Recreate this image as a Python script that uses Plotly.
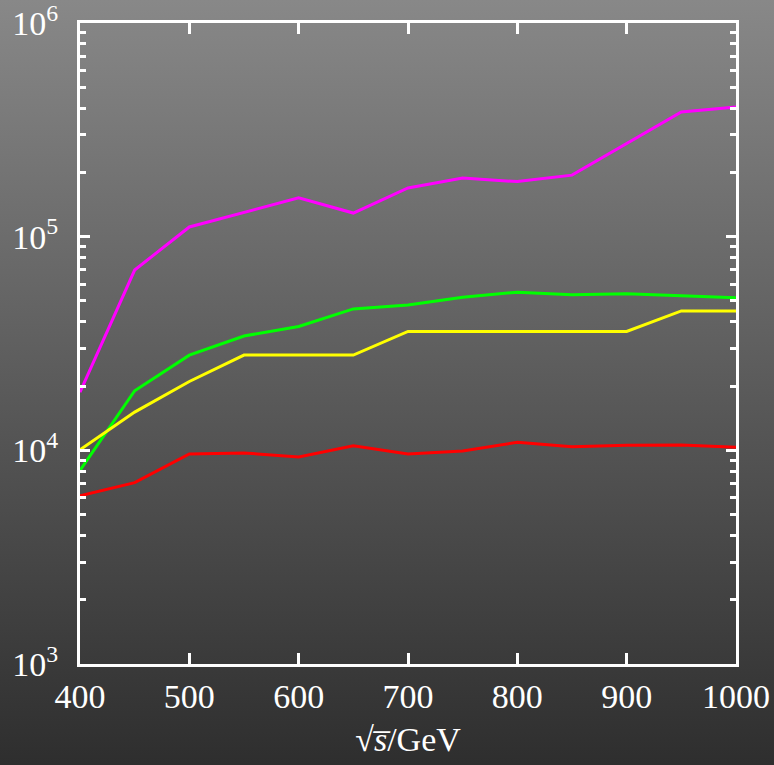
import base64
import plotly.graph_objects as go

# ---- data ----
sqrt_s = [400, 450, 500, 550, 600, 650, 700, 750, 800, 850, 900, 950, 1000]
magenta_vals = [18700, 69800, 111000, 130000, 152000, 129000, 169000, 188000, 181000, 194000, 272000, 383000, 404000]
green_vals = [8050, 19000, 27900, 34300, 38000, 45900, 47900, 52000, 55000, 53500, 54000, 53000, 51800]
yellow_vals = [10050, 15100, 21000, 27900, 27900, 27900, 36000, 36000, 36000, 36000, 36000, 44900, 44900]
red_vals = [6120, 7060, 9620, 9720, 9310, 10500, 9620, 9940, 10900, 10400, 10550, 10600, 10350]

x_ticks = [400, 500, 600, 700, 800, 900, 1000]
y_ticks = [1e3, 1e4, 1e5, 1e6]
y_ticktext = ["10<sup>3</sup>", "10<sup>4</sup>", "10<sup>5</sup>", "10<sup>6</sup>"]
y_minor = [m * 10 ** e for e in (3, 4, 5) for m in range(2, 10)]

W, H = 774, 765
ML, MR, MT, MB = 80, 38, 23, 101
PW, PH = W - ML - MR, H - MT - MB

svg = (
    f"<svg xmlns='http://www.w3.org/2000/svg' width='{W}' height='{H}' preserveAspectRatio='none'>"
    "<defs><linearGradient id='g' x1='0' y1='0' x2='0' y2='1'>"
    "<stop offset='0' stop-color='#888888'/><stop offset='1' stop-color='#2e2e2e'/>"
    "</linearGradient></defs>"
    f"<rect x='0' y='0' width='{W}' height='{H}' fill='url(#g)'/></svg>"
)
bg_src = "data:image/svg+xml;base64," + base64.b64encode(svg.encode()).decode()

fig = go.Figure()
for vals, col in [(magenta_vals, "#ff00ff"), (green_vals, "#00ff00"),
                  (yellow_vals, "#ffff00"), (red_vals, "#ff0000")]:
    fig.add_trace(go.Scatter(x=sqrt_s, y=vals, mode="lines",
                             line=dict(color=col, width=3), showlegend=False))

font = dict(family="Liberation Serif, Times New Roman, serif", size=34, color="white")

fig.update_layout(
    width=W, height=H,
    margin=dict(l=ML, r=MR, t=MT, b=MB, autoexpand=False),
    paper_bgcolor="#2e2e2e",
    plot_bgcolor="rgba(0,0,0,0)",
    font=font,
    images=[dict(source=bg_src, xref="paper", yref="paper",
                 x=-ML / PW, y=1 + MT / PH, sizex=W / PW, sizey=H / PH,
                 xanchor="left", yanchor="top", sizing="stretch", layer="below")],
    xaxis=dict(range=[400, 1000], tickvals=x_ticks, ticks="inside", ticklen=11,
               tickwidth=3, tickcolor="white", showline=True, linewidth=3,
               linecolor="white", mirror="ticks", showgrid=False, zeroline=False,
               tickfont=font, ticklabeloverflow="allow",
               title=dict(text="√<i>s\u0305</i>/GeV", font=font, standoff=14)),
    yaxis=dict(type="log", range=[3, 6], tickvals=y_ticks, ticktext=y_ticktext,
               ticks="inside", ticklen=10, tickwidth=3, tickcolor="white",
               showline=True, linewidth=3, linecolor="white", mirror="ticks",
               showgrid=False, zeroline=False, tickfont=font,
               ticklabeloverflow="allow", ticklabelstandoff=12,
               minor=dict(tickvals=y_minor, ticks="inside", ticklen=6,
                          tickwidth=2.5, tickcolor="white", showgrid=False)),
)

fig.write_html("out.html", config={"displayModeBar": False},
               post_script="document.body.style.margin='0';document.body.style.padding='0';")
